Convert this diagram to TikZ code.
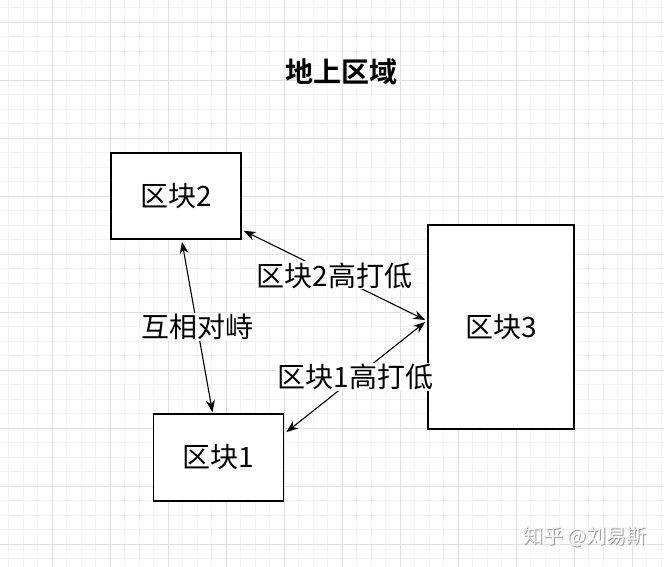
\documentclass[tikz,border=0pt]{standalone}
\usepackage{fontspec}
\setmainfont{Noto Sans CJK SC}
\newfontfamily\cjk{Noto Sans CJK SC}
\newfontfamily\cjkbold{Noto Sans CJK SC Bold}
\usetikzlibrary{arrows.meta}
\definecolor{minorgrid}{HTML}{F2F2F2}
\definecolor{majorgrid}{HTML}{E0E0E0}
\tikzset{
  blockbox/.style={draw=black, line width=1.6pt, fill=white, inner sep=0pt,
    font=\cjk\fontsize{28}{30}\selectfont},
  conn/.style={line width=1.1pt, {Stealth[length=12pt,width=9pt]}-{Stealth[length=12pt,width=9pt]}},
  lab/.style={fill=white, inner sep=1pt, font=\cjk\fontsize{28}{30}\selectfont},
}
\begin{document}
\begin{tikzpicture}[x=1pt,y=-1pt]
\useasboundingbox (0,0) rectangle (664,567);
\fill[white] (0,0) rectangle (664,567);
% minor grid
\foreach \i in {0,...,46} {
  \draw[minorgrid, line width=0.8pt] ({-6+14.5*\i},0) -- ({-6+14.5*\i},567);
}
\foreach \i in {0,...,40} {
  \draw[minorgrid, line width=0.8pt] (0,{7.5+14.5*\i}) -- (664,{7.5+14.5*\i});
}
% major grid
\foreach \i in {0,...,11} {
  \draw[majorgrid, line width=0.9pt] ({52+58*\i},0) -- ({52+58*\i},567);
}
\foreach \i in {0,...,9} {
  \draw[majorgrid, line width=0.9pt] (0,{22+58*\i}) -- (664,{22+58*\i});
}
% title
\node[font=\cjkbold\fontsize{28}{30}\selectfont] (title) at (341,72) {地上区域};
% blocks
\node[blockbox, minimum width=130pt, minimum height=86pt] (b2) at (176,196) {区块2};
\node[blockbox, minimum width=146pt, minimum height=204pt] (b3) at (501,327) {区块3};
\node[blockbox, minimum width=130pt, minimum height=87pt] (b1) at (218.5,457.5) {区块1};
% connectors
\draw[conn] ([xshift=6pt,yshift=-2pt]b2.south) -- node[lab, pos=0.5] (l1) {互相对峙} ([xshift=-6pt,yshift=1pt]b1.north);
\draw[conn] ([xshift=2pt,yshift=9pt]b2.south east) -- node[lab, pos=0.5] (l2) {区块2高打低} ([xshift=-2pt,yshift=7pt]b3.west);
\draw[conn] ([xshift=-2pt,yshift=5pt]b3.west) -- node[lab, pos=0.5] (l3) {区块1高打低} ([xshift=2pt,yshift=-19pt]b1.north east);
% watermark
\node[text=gray!75, font=\cjk\fontsize{20}{22}\selectfont] (wms) at (586,538) {知乎 @刘易斯};
\node[text=gray!8, font=\cjk\fontsize{20}{22}\selectfont] (wm) at (585,537) {知乎 @刘易斯};
\end{tikzpicture}
\end{document}
